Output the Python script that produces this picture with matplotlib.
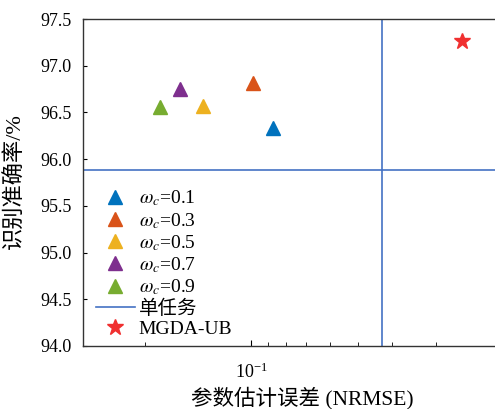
import matplotlib
matplotlib.use('Agg')
import matplotlib.pyplot as plt

plt.rcParams['font.family'] = ['Liberation Serif', 'Noto Sans CJK SC']
plt.rcParams['mathtext.fontset'] = 'stix'

# 不同权重系数下的结果 (NRMSE, 识别准确率)
omega_labels = ['0.1', '0.3', '0.5', '0.7', '0.9']
nrmse = [0.0866, 0.0987, 0.137, 0.159, 0.181]
accuracy = [96.33, 96.81, 96.57, 96.75, 96.56]
colors = ['#0072BD', '#D95319', '#EDB120', '#7E2F8E', '#77AC30']

# 单任务基线
single_nrmse = 0.0425
single_acc = 95.88

# MGDA-UB
mgda_nrmse = 0.0253
mgda_acc = 97.26

fig = plt.figure(figsize=(4.95, 4.09), dpi=100)
ax = fig.add_axes([83 / 495, 1 - 346 / 409, 415 / 495, 327 / 409])

for lab, x, y, c in zip(omega_labels, nrmse, accuracy, colors):
    ax.plot(x, y, '^', color=c, ms=10, ls='none', label=r'$\omega_c$=' + lab)

ax.axhline(single_acc, color='#4472C4', lw=1.2, label='单任务')
ax.axvline(single_nrmse, color='#4472C4', lw=1.2)
ax.plot(mgda_nrmse, mgda_acc, '*', color='#F03030', ms=12, ls='none', label='MGDA-UB')

ax.set_xscale('log')
ax.set_xlim(0.3, 0.02)
ax.set_ylim(94.0, 97.5)
ax.set_yticks([94.0, 94.5, 95.0, 95.5, 96.0, 96.5, 97.0, 97.5])
ax.set_yticklabels(['94.0', '94.5', '95.0', '95.5', '96.0', '96.5', '97.0', '97.5'])

ax.spines['right'].set_visible(False)
for s in ['left', 'top', 'bottom']:
    ax.spines[s].set_color('#333333')
    ax.spines[s].set_linewidth(1.0)
ax.tick_params(axis='both', which='both', direction='in', labelsize=13,
               top=False, right=False)
ax.tick_params(axis='x', which='major', length=4, pad=12)
ax.tick_params(axis='x', which='minor', length=3)
ax.tick_params(axis='y', length=3, pad=8)

ax.set_xlabel('参数估计误差 (NRMSE)', fontsize=15.5)
ax.set_ylabel('识别准确率/%', fontsize=16)
ax.xaxis.set_label_coords(0.528, -0.125)
ax.yaxis.set_label_coords(-0.137, 0.505)

ax.legend(loc='lower left', bbox_to_anchor=(0.012, 0.0), frameon=False,
          fontsize=14, handlelength=2.0, handletextpad=0.2, labelspacing=0.13,
          borderaxespad=0.2, borderpad=0.2)

fig.savefig('out.png', dpi=100)
